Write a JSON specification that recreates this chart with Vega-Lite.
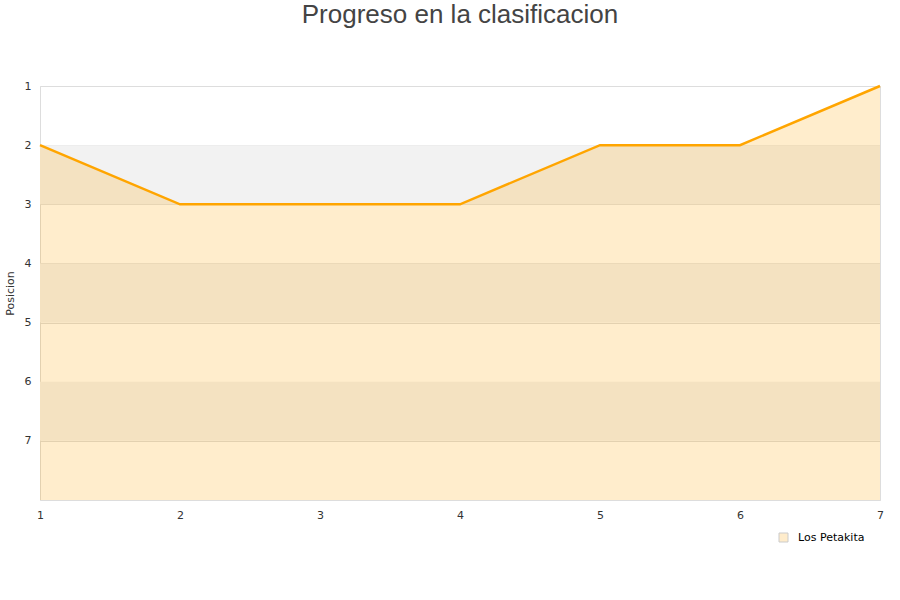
{
  "$schema": "https://vega.github.io/schema/vega-lite/v6.json",
  "autosize": "none",
  "width": 840,
  "height": 414,
  "padding": {"left": 40, "top": 86, "right": 20, "bottom": 100},
  "background": "white",
  "title": {
    "text": "Progreso en la clasificacion",
    "font": "Liberation Sans",
    "fontSize": 26,
    "fontWeight": "normal",
    "color": "#444444",
    "anchor": "middle",
    "offset": 52
  },
  "config": {
    "view": {"stroke": "#dddddd", "strokeWidth": 1},
    "axis": {"labelFont": "DejaVu Sans", "labelFontSize": 11, "labelColor": "#333333", "titleFont": "DejaVu Sans", "titleFontWeight": "normal", "titleFontSize": 11, "titleColor": "#333333", "domain": false, "ticks": false}
  },
  "datasets": {
    "pos": [
      {"jornada": 1, "posicion": 2, "equipo": "Los Petakita"},
      {"jornada": 2, "posicion": 3, "equipo": "Los Petakita"},
      {"jornada": 3, "posicion": 3, "equipo": "Los Petakita"},
      {"jornada": 4, "posicion": 3, "equipo": "Los Petakita"},
      {"jornada": 5, "posicion": 2, "equipo": "Los Petakita"},
      {"jornada": 6, "posicion": 2, "equipo": "Los Petakita"},
      {"jornada": 7, "posicion": 1, "equipo": "Los Petakita"}
    ],
    "bands": [
      {"desde": 2, "hasta": 3},
      {"desde": 4, "hasta": 5},
      {"desde": 6, "hasta": 7}
    ]
  },
  "layer": [
    {
      "data": {"name": "bands"},
      "mark": {"type": "rect", "fill": "#f2f2f2"},
      "encoding": {
        "y": {"field": "desde", "type": "quantitative", "scale": {"domain": [1, 8], "reverse": true, "nice": false, "zero": false},
          "axis": {"values": [1, 2, 3, 4, 5, 6, 7, 8], "format": "d", "labelExpr": "datum.value == 8 ? '' : datum.label", "grid": true, "gridColor": "#dddddd", "title": "Posicion", "titlePadding": 9, "labelPadding": 9}},
        "y2": {"field": "hasta"}
      }
    },
    {
      "data": {"name": "pos"},
      "mark": {"type": "area", "opacity": 0.2},
      "encoding": {
        "x": {"field": "jornada", "type": "quantitative", "scale": {"domain": [1, 7], "nice": false, "zero": false},
          "axis": {"values": [1, 2, 3, 4, 5, 6, 7], "format": "d", "grid": false, "title": null, "labelPadding": 9, "labelFlush": false}},
        "y": {"field": "posicion", "type": "quantitative"},
        "y2": {"datum": 8},
        "color": {"field": "equipo", "type": "nominal", "scale": {"range": ["#FFA500"]},
          "legend": {"orient": "none", "legendX": 738, "legendY": 446, "title": null, "symbolType": "square", "symbolSize": 81, "symbolStrokeColor": "#000000", "symbolStrokeWidth": 1, "labelOffset": 9, "labelFont": "DejaVu Sans", "labelFontSize": 11, "labelColor": "#000000"}}
      }
    },
    {
      "data": {"name": "pos"},
      "mark": {"type": "line", "stroke": "#FFA500", "strokeWidth": 2.5},
      "encoding": {
        "x": {"field": "jornada", "type": "quantitative"},
        "y": {"field": "posicion", "type": "quantitative"}
      }
    }
  ]
}
